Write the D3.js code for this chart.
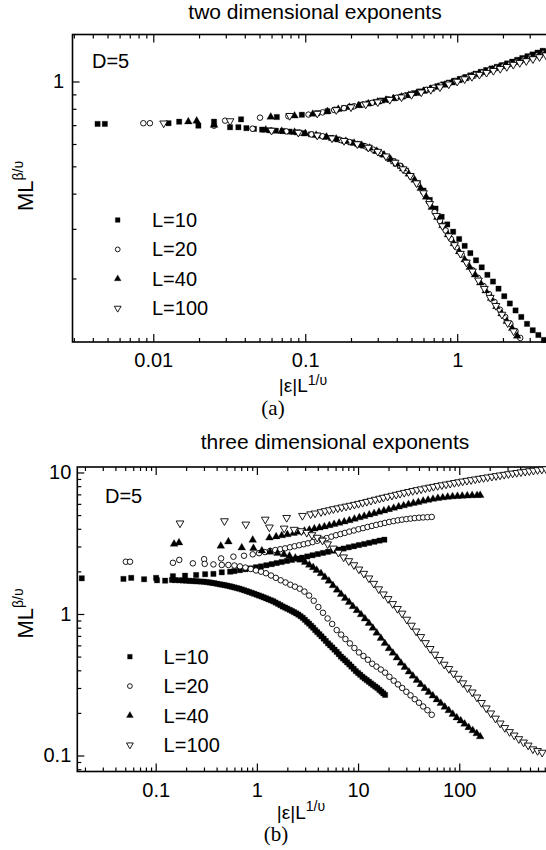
<!DOCTYPE html>
<html>
<head>
<meta charset="utf-8">
<script src="https://cdnjs.cloudflare.com/ajax/libs/d3/7.8.5/d3.min.js"></script>
<style>
body { margin: 0; background: #fff; }
svg text { font-family: "Liberation Sans", Arial, sans-serif; fill: #000; }
</style>
</head>
<body>
<div id="chart"></div>
<script>
var seriesNames = ["L=10", "L=20", "L=40", "L=100"];

// (a) two dimensional exponents, points are [|e|L^(1/v), ML^(b/v)]
var twoD_L10 = [[0.0043,0.707],[0.0048,0.707],[0.0126,0.711],[0.0148,0.720],[0.0198,0.697],[0.0251,0.720],[0.032,0.688],[0.0363,0.688],[0.0378,0.734],[0.065,0.748],[0.095,0.762],
  [0.12,0.772],[0.14,0.784],[0.16,0.795],[0.18,0.805],[0.2,0.814],[0.23,0.826],[0.26,0.836],[0.29,0.846],[0.32,0.856],[0.35,0.864],[0.39,0.874],[0.43,0.884],[0.47,0.895],[0.52,0.909],[0.57,0.922],[0.62,0.935],[0.68,0.949],[0.74,0.962],[0.81,0.977],[0.88,0.991],[0.96,1.006],[1.04,1.021],[1.13,1.036],[1.22,1.051],[1.32,1.066],[1.43,1.082],[1.55,1.097],[1.68,1.112],[1.82,1.127],[1.97,1.143],[2.13,1.159],[2.3,1.176],[2.48,1.193],[2.68,1.211],[2.9,1.229],[3.13,1.247],[3.38,1.266],[3.65,1.285],
  [0.041,0.683],[0.046,0.679],[0.052,0.675],[0.058,0.671],[0.064,0.669],[0.071,0.667],[0.079,0.664],[0.088,0.660],[0.098,0.655],[0.109,0.649],[0.121,0.643],[0.134,0.637],[0.148,0.630],[0.163,0.623],[0.18,0.616],[0.2,0.608],[0.22,0.600],[0.24,0.592],[0.265,0.581],[0.29,0.568],[0.32,0.553],[0.35,0.537],[0.38,0.521],[0.42,0.502],[0.46,0.483],[0.5,0.462],[0.55,0.436],[0.6,0.410],[0.66,0.380],[0.72,0.354],[0.79,0.331],[0.86,0.311],[0.94,0.293],[1.03,0.276],[1.12,0.261],[1.22,0.246],[1.33,0.232],[1.45,0.219],[1.58,0.206],[1.72,0.195],[1.87,0.184],[2.04,0.173],[2.22,0.163],[2.42,0.154],[2.64,0.146],[2.88,0.138],[3.14,0.131],[3.42,0.126],[3.72,0.121]];
var twoD_L20 = [[0.0086,0.711],[0.0095,0.711],[0.0251,0.697],[0.0297,0.726],
  [0.0504,0.744],[0.0774,0.753],[0.105,0.763],[0.13,0.777],[0.155,0.792],[0.18,0.804],[0.21,0.817],[0.24,0.829],[0.275,0.840],[0.31,0.852],[0.35,0.863],[0.4,0.876],[0.45,0.889],[0.5,0.902],[0.56,0.917],[0.63,0.934],[0.7,0.951],[0.78,0.968],[0.87,0.986],[0.97,1.004],[1.08,1.023],[1.2,1.042],[1.33,1.061],[1.48,1.080],[1.64,1.098],[1.82,1.116],[2.02,1.135],[2.24,1.155],[2.48,1.175],[2.75,1.196],[3.05,1.218],[3.38,1.24],[3.75,1.264],
  [0.045,0.680],[0.06,0.670],[0.075,0.665],[0.092,0.658],[0.11,0.649],[0.13,0.639],[0.15,0.629],[0.17,0.620],[0.195,0.610],[0.22,0.600],[0.25,0.588],[0.28,0.573],[0.31,0.558],[0.345,0.540],[0.38,0.521],[0.42,0.502],[0.46,0.482],[0.5,0.460],[0.55,0.433],[0.6,0.405],[0.65,0.375],[0.71,0.344],[0.77,0.320],[0.84,0.296],[0.91,0.276],[0.99,0.258],[1.07,0.243],[1.16,0.228],[1.26,0.214],[1.37,0.201],[1.49,0.188],[1.62,0.176],[1.76,0.165],[1.91,0.155],[2.07,0.146],[2.24,0.138],[2.42,0.130],[2.6,0.123]];
var twoD_L40 = [[0.017,0.720],[0.0193,0.724],[0.0251,0.700],
  [0.0593,0.748],[0.085,0.755],[0.112,0.766],[0.14,0.783],[0.165,0.797],[0.195,0.810],[0.225,0.822],[0.26,0.834],[0.3,0.847],[0.34,0.859],[0.38,0.870],[0.43,0.882],[0.48,0.894],[0.54,0.909],[0.6,0.923],[0.67,0.939],[0.75,0.956],[0.83,0.972],[0.92,0.989],[1.02,1.007],[1.13,1.025],[1.25,1.044],[1.39,1.064],[1.54,1.083],[1.7,1.101],[1.88,1.120],[2.08,1.139],[2.3,1.158],[2.55,1.178],[2.82,1.198],[3.12,1.219],[3.45,1.240],[3.8,1.262],
  [0.055,0.673],[0.07,0.666],[0.085,0.661],[0.1,0.654],[0.118,0.645],[0.138,0.635],[0.16,0.625],[0.185,0.614],[0.21,0.604],[0.235,0.594],[0.265,0.581],[0.295,0.566],[0.33,0.548],[0.365,0.529],[0.4,0.510],[0.44,0.490],[0.48,0.470],[0.525,0.447],[0.575,0.418],[0.625,0.389],[0.68,0.358],[0.74,0.330],[0.8,0.308],[0.87,0.286],[0.95,0.266],[1.03,0.249],[1.12,0.233],[1.21,0.219],[1.31,0.206],[1.42,0.193],[1.54,0.181],[1.67,0.170],[1.81,0.159],[1.96,0.150],[2.12,0.141],[2.3,0.133],[2.48,0.125]];
var twoD_L100 = [[0.0117,0.711],[0.032,0.724],[0.079,0.756],
  [0.12,0.770],[0.16,0.793],[0.2,0.811],[0.25,0.830],[0.3,0.845],[0.36,0.862],[0.43,0.880],[0.5,0.897],[0.58,0.916],[0.67,0.935],[0.77,0.955],[0.88,0.978],[1.0,1.0],[1.12,1.02],[1.25,1.04],[1.4,1.058],[1.56,1.075],[1.73,1.092],[1.92,1.11],[2.12,1.128],[2.34,1.148],[2.58,1.165],[2.85,1.183],[3.15,1.202],[3.48,1.222],[3.84,1.24],
  [0.06,0.670],[0.09,0.659],[0.12,0.644],[0.15,0.629],[0.18,0.616],[0.22,0.600],[0.26,0.583],[0.3,0.564],[0.34,0.543],[0.39,0.516],[0.44,0.489],[0.49,0.463],[0.54,0.436],[0.6,0.402],[0.66,0.368],[0.73,0.334],[0.8,0.307],[0.88,0.283],[0.96,0.263],[1.05,0.245],[1.15,0.228],[1.26,0.212],[1.38,0.197],[1.51,0.184],[1.65,0.171],[1.8,0.160],[1.97,0.149],[2.15,0.139],[2.35,0.130]];

// (b) three dimensional exponents
var threeD_L10 = [[0.0186,1.787],[0.048,1.77],[0.0573,1.80],[0.0768,1.76],[0.101,1.80],[0.103,1.73],[0.124,1.72],
  [0.148,1.85],[0.195,1.865],[0.251,1.886],[0.308,1.91],[0.372,1.92],[0.45,1.97],[0.544,1.99],[0.6,2.01],[0.68,2.04],[0.77,2.07],[0.87,2.10],[0.98,2.14],[1.1,2.17],[1.24,2.21],[1.4,2.25],[1.57,2.29],[1.76,2.33],[1.98,2.37],[2.22,2.41],[2.5,2.46],[2.8,2.50],[3.15,2.55],[3.55,2.60],[4.0,2.65],[4.5,2.70],[5.05,2.75],[5.7,2.80],[6.4,2.85],[7.2,2.90],[8.1,2.96],[9.1,3.01],[10.2,3.07],[11.5,3.12],[12.9,3.18],[14.5,3.24],[16.3,3.30],[18.2,3.35],
  [0.145,1.74],[0.155,1.735],[0.17,1.73],[0.185,1.725],[0.2,1.72],[0.215,1.715],[0.23,1.71],[0.245,1.705],[0.26,1.70],[0.28,1.695],[0.3,1.69],[0.32,1.68],[0.34,1.67],[0.36,1.66],[0.38,1.65],[0.405,1.635],[0.43,1.62],[0.455,1.61],[0.48,1.60],[0.51,1.585],[0.54,1.57],[0.57,1.555],[0.6,1.54],[0.635,1.525],[0.67,1.51],[0.71,1.49],[0.75,1.47],[0.795,1.45],[0.84,1.43],[0.89,1.41],[0.94,1.39],[0.995,1.37],[1.05,1.35],[1.11,1.33],[1.17,1.31],[1.235,1.29],[1.3,1.27],[1.375,1.25],[1.45,1.23],[1.53,1.205],[1.62,1.18],[1.71,1.155],[1.8,1.13],[1.9,1.11],[2.0,1.09],[2.11,1.07],[2.22,1.05],[2.33,1.03],[2.45,1.01],[2.57,0.99],[2.7,0.965],[2.84,0.94],[2.98,0.91],[3.13,0.88],[3.28,0.855],[3.44,0.825],[3.6,0.80],[3.77,0.77],[3.95,0.745],[4.15,0.72],[4.35,0.695],[4.57,0.67],[4.8,0.645],[5.05,0.62],[5.3,0.60],[5.57,0.58],[5.85,0.56],[6.15,0.54],[6.45,0.52],[6.77,0.50],[7.1,0.485],[7.45,0.47],[7.8,0.455],[8.2,0.44],[8.6,0.425],[9.05,0.41],[9.5,0.395],[10.0,0.383],[10.5,0.372],[11.05,0.36],[11.6,0.35],[12.2,0.341],[12.8,0.332],[13.45,0.323],[14.1,0.315],[14.8,0.307],[15.5,0.30],[16.25,0.291],[17.0,0.283],[17.75,0.275],[18.5,0.268]];
var threeD_L20 = [[0.0507,2.34],[0.0558,2.34],[0.148,2.30],[0.171,2.41],[0.233,2.28],[0.301,2.44],[0.305,2.26],[0.372,2.24],[0.443,2.47],[0.523,2.22],
  [0.586,2.54],[0.747,2.58],[0.91,2.64],[1.05,2.69],[1.2,2.74],[1.35,2.79],[1.52,2.83],[1.7,2.87],[1.9,2.91],[2.12,2.96],[2.36,3.01],[2.62,3.06],[2.9,3.11],[3.2,3.16],[3.55,3.22],[3.95,3.29],[4.4,3.36],[4.9,3.44],[5.45,3.52],[6.05,3.60],[6.7,3.67],[7.4,3.74],[8.2,3.82],[9.1,3.89],[10.1,3.97],[11.2,4.04],[12.4,4.12],[13.7,4.19],[15.1,4.26],[16.7,4.33],[18.4,4.40],[20.3,4.47],[22.4,4.53],[24.7,4.59],[27.2,4.64],[30,4.68],[33,4.72],[36.3,4.76],[40,4.79],[44,4.81],[48.5,4.83],[53.5,4.85],
  [0.45,2.22],[0.6,2.20],[0.68,2.17],[0.77,2.13],[0.87,2.08],[0.98,2.03],[1.1,1.99],[1.23,1.94],[1.38,1.87],[1.54,1.80],[1.72,1.73],[1.92,1.67],[2.14,1.61],[2.38,1.56],[2.65,1.51],[2.95,1.44],[3.28,1.35],[3.65,1.24],[4.05,1.12],[4.5,1.02],[5.0,0.93],[5.55,0.85],[6.15,0.77],[6.8,0.715],[7.5,0.665],[8.3,0.62],[9.2,0.575],[10.2,0.535],[11.3,0.505],[12.5,0.475],[13.8,0.445],[15.2,0.425],[16.8,0.405],[18.5,0.385],[20.4,0.36],[22.5,0.338],[24.8,0.318],[27.3,0.30],[30,0.282],[33,0.266],[36.3,0.25],[40,0.236],[44,0.222],[48.5,0.209],[53.5,0.194]];
var threeD_L40 = [[0.152,3.12],[0.17,3.19],[0.44,3.02],[0.523,3.24],[0.709,2.94],[0.91,3.33],[0.925,2.91],[1.12,2.80],
  [1.33,3.45],[1.55,3.52],[1.76,3.58],[2.0,3.64],[2.3,3.72],[2.6,3.79],[2.95,3.86],[3.3,3.93],[3.7,4.00],[4.15,4.07],[4.65,4.14],[5.2,4.22],[5.8,4.30],[6.5,4.39],[7.3,4.48],[8.2,4.58],[9.2,4.69],[10.3,4.80],[11.5,4.91],[12.9,5.02],[14.4,5.13],[16.1,5.25],[18,5.36],[20.1,5.48],[22.5,5.60],[25.2,5.72],[28.2,5.83],[31.5,5.95],[35.2,6.06],[39.4,6.17],[44,6.28],[49.2,6.38],[55,6.48],[61.5,6.57],[68.7,6.64],[76.8,6.70],[85.8,6.75],[96,6.79],[107,6.82],[120,6.85],[134,6.87],[150,6.89],[161,6.90],
  [1.35,2.74],[1.6,2.69],[1.85,2.63],[2.1,2.57],[2.4,2.49],[2.7,2.41],[3.0,2.32],[3.3,2.22],[3.6,2.13],[3.9,2.04],[4.3,1.93],[4.7,1.82],[5.15,1.71],[5.65,1.59],[6.2,1.48],[6.8,1.38],[7.45,1.29],[8.15,1.21],[8.9,1.13],[9.75,1.06],[10.7,0.99],[11.7,0.925],[12.8,0.86],[14,0.795],[15.3,0.735],[16.8,0.675],[18.4,0.62],[20.2,0.57],[22.1,0.53],[24.2,0.49],[26.5,0.45],[29,0.42],[31.8,0.39],[34.8,0.365],[38.1,0.34],[41.7,0.318],[45.7,0.298],[50,0.28],[54.8,0.264],[60,0.248],[65.7,0.234],[72,0.22],[78.8,0.208],[86.3,0.196],[94.5,0.185],[103.5,0.176],[113,0.167],[124,0.158],[136,0.15],[149,0.143],[161,0.136]];
var threeD_L100 = [[0.174,4.38],[0.478,4.54],[0.777,4.30],[1.21,4.66],[1.97,4.79],
  [2.82,4.95],[3.4,5.08],[3.76,5.15],[4.3,5.26],[4.72,5.35],[5.2,5.43],[5.7,5.52],[6.3,5.60],[6.9,5.68],[7.6,5.76],[8.34,5.84],[9.2,5.93],[10.1,6.02],[11.1,6.12],[12.2,6.22],[13.4,6.33],[14.8,6.44],[16.3,6.55],[17.8,6.65],[19.6,6.76],[21.6,6.87],[23.8,6.98],[26,7.09],[28.6,7.20],[31.5,7.31],[34.7,7.42],[38.2,7.53],[42,7.63],[46.2,7.74],[50.8,7.84],[55.6,7.94],[61.2,8.05],[67.3,8.15],[74,8.25],[81.4,8.35],[89.6,8.46],[98.5,8.56],[108,8.66],[119,8.76],[131,8.86],[144,8.96],[158,9.06],[174,9.16],[191,9.26],[210,9.36],[231,9.46],[253,9.56],[278,9.66],[306,9.76],[337,9.86],[370,9.96],[407,10.06],[448,10.15],[492,10.24],[541,10.33],[595,10.42],[655,10.5],[720,10.58],
  [1.33,4.10],[1.86,4.03],[2.33,3.95],[2.75,3.86],[3.11,3.76],[3.5,3.62],[3.95,3.47],[4.45,3.31],[5.0,3.12],[5.7,2.91],[6.4,2.72],[7.2,2.52],[8.1,2.37],[9.1,2.22],[10.2,2.07],[11.4,1.93],[12.8,1.79],[14.3,1.64],[16,1.50],[17.8,1.38],[19.8,1.28],[22,1.18],[24.5,1.09],[27.2,1.01],[30.3,0.915],[33.7,0.83],[37.5,0.755],[41.7,0.69],[46.4,0.625],[51.6,0.568],[57.4,0.518],[63.8,0.475],[71,0.44],[79,0.41],[87.8,0.38],[97.7,0.35],[108.6,0.325],[120.8,0.30],[134.4,0.28],[149.5,0.258],[166,0.236],[185,0.216],[205,0.199],[228,0.183],[254,0.169],[282,0.157],[314,0.147],[349,0.139],[388,0.131],[432,0.124],[480,0.118],[534,0.111],[594,0.108],[660,0.105]];

// tick values
var xMajorA = [0.01, 0.1, 1];
var xMinorA = [0.003,0.004,0.005,0.006,0.007,0.008,0.009,0.02,0.03,0.04,0.05,0.06,0.07,0.08,0.09,0.2,0.3,0.4,0.5,0.6,0.7,0.8,0.9,2,3];
var yMajorA = [1];
var yMinorA = [0.2,0.3,0.4,0.5,0.6,0.7,0.8,0.9];
var xMajorB = [0.1, 1, 10, 100];
var xMinorB = [0.02,0.03,0.04,0.05,0.06,0.07,0.08,0.09,0.2,0.3,0.4,0.5,0.6,0.7,0.8,0.9,2,3,4,5,6,7,8,9,20,30,40,50,60,70,80,90,200,300,400,500,600,700];
var yMajorB = [0.1, 1, 10];
var yMinorB = [0.08,0.09,0.2,0.3,0.4,0.5,0.6,0.7,0.8,0.9,2,3,4,5,6,7,8,9];

var W = 546, H = 850;
var svg = d3.select("#chart").append("svg")
    .attr("width", W)
    .attr("height", H);
svg.append("rect").attr("width", W).attr("height", H).attr("fill", "#fff");

var symbolTypes = [d3.symbolSquare, d3.symbolCircle, d3.symbolTriangle, d3.symbolTriangle];
var symbolSizes = [28, 24, 26, 26];
var symbolFill = ["#000", "#fff", "#000", "#fff"];
var symbolRot = ["", "", "", " rotate(180)"];

var panels = [
  {title: "two dimensional exponents", titleX: 315, titleY: 19, tag: "(a)", tagX: 273, tagY: 415,
   left: 72.5, top: 34.5, bottom: 342, xDomain: [0.00294, 3.84], yDomain: [0.119, 1.468],
   xMajor: xMajorA, xMinor: xMinorA, yMajor: yMajorA, yMinor: yMinorA, yPad: 8.5,
   series: [twoD_L10, twoD_L20, twoD_L40, twoD_L100],
   dX: 92, dY: 68, legX: 117.7, legTextX: 152, legY: 220, xLabX: 303, xLabY: 392, yLabY: 186},
  {title: "three dimensional exponents", titleX: 335, titleY: 449, tag: "(b)", tagX: 276, tagY: 841,
   left: 77.3, top: 467, bottom: 771.5, xDomain: [0.0168, 720], yDomain: [0.0771, 10.93],
   xMajor: xMajorB, xMinor: xMinorB, yMajor: yMajorB, yMinor: yMinorB, yPad: 6,
   series: [threeD_L10, threeD_L20, threeD_L40, threeD_L100],
   dX: 105, dY: 503, legX: 129.9, legTextX: 163.6, legY: 656.7, xLabX: 301, xLabY: 818.5, yLabY: 613.5}
];

panels.forEach(drawPanel);

function drawPanel(p){
    var x = d3.scaleLog().domain(p.xDomain).range([p.left, W]);
    var y = d3.scaleLog().domain(p.yDomain).range([p.bottom, p.top]);

    // axes, ticks pointing inwards
    var gb = svg.append("g").attr("transform", "translate(0," + p.bottom + ")");
    gb.call(d3.axisBottom(x).tickValues(p.xMinor).tickSize(-4).tickFormat(""));
    var gb2 = svg.append("g").attr("transform", "translate(0," + p.bottom + ")");
    gb2.call(d3.axisBottom(x).tickValues(p.xMajor).tickSize(-8).tickPadding(11)
        .tickFormat(function(d){ return d >= 1 ? d3.format("d")(d) : String(d); }));

    var gt = svg.append("g").attr("transform", "translate(0," + p.top + ")");
    gt.call(d3.axisTop(x).tickValues(p.xMinor).tickSize(-4).tickFormat(""));
    var gt2 = svg.append("g").attr("transform", "translate(0," + p.top + ")");
    gt2.call(d3.axisTop(x).tickValues(p.xMajor).tickSize(-8).tickFormat(""));

    var gl = svg.append("g").attr("transform", "translate(" + p.left + ",0)");
    gl.call(d3.axisLeft(y).tickValues(p.yMinor).tickSize(-4).tickFormat(""));
    var gl2 = svg.append("g").attr("transform", "translate(" + p.left + ",0)");
    gl2.call(d3.axisLeft(y).tickValues(p.yMajor).tickSize(-7).tickPadding(p.yPad)
        .tickFormat(function(d){ return d >= 1 ? d3.format("d")(d) : String(d); }));

    [gb, gb2, gt, gt2, gl, gl2].forEach(function(g){
        g.select(".domain").remove();
        g.attr("font-size", 20).attr("font-family", null);
        g.selectAll(".tick line").attr("stroke", "#000").attr("stroke-width", 1.2);
    });

    // frame
    svg.append("rect")
        .attr("x", p.left)
        .attr("y", p.top)
        .attr("width", W + 10 - p.left)
        .attr("height", p.bottom - p.top)
        .attr("fill", "none")
        .attr("stroke", "#000")
        .attr("stroke-width", 1.6);

    // data points
    p.series.forEach(function(s, i){
        svg.append("g").selectAll("path")
            .data(s)
            .enter()
            .append("path")
            .attr("d", d3.symbol().type(symbolTypes[i]).size(symbolSizes[i]))
            .attr("transform", function(d){
                return "translate(" + x(d[0]) + "," + y(d[1]) + ")" + symbolRot[i];
            })
            .attr("fill", symbolFill[i])
            .attr("stroke", "#000")
            .attr("stroke-width", i % 2 === 1 ? 0.9 : 0.3);
    });

    // legend
    for(var i in seriesNames){
        var ly = p.legY + i*29.4;
        svg.append("path")
            .attr("d", d3.symbol().type(symbolTypes[i]).size(symbolSizes[i] - 6))
            .attr("transform", "translate(" + p.legX + "," + ly + ")" + symbolRot[i])
            .attr("fill", symbolFill[i])
            .attr("stroke", "#000")
            .attr("stroke-width", i % 2 === 1 ? 0.9 : 0.3);
        svg.append("text")
            .attr("x", p.legTextX)
            .attr("y", ly + 7)
            .style("font-size", "20px")
            .text(seriesNames[i]);
    }

    svg.append("text")
        .attr("x", p.dX)
        .attr("y", p.dY)
        .style("font-size", "20px")
        .text("D=5");

    svg.append("text")
        .attr("x", p.titleX)
        .attr("y", p.titleY)
        .attr("text-anchor", "middle")
        .style("font-size", "21px")
        .text(p.title);

    // axis titles
    var xl = svg.append("text")
        .attr("x", p.xLabX)
        .attr("y", p.xLabY)
        .attr("text-anchor", "middle")
        .style("font-size", "19px");
    xl.append("tspan").text("|\u03b5|L");
    xl.append("tspan").attr("dy", -7.5).style("font-size", "14px").text("1/\u03c5");

    var yl = svg.append("text")
        .attr("transform", "translate(33," + p.yLabY + ") rotate(-90)")
        .attr("text-anchor", "middle")
        .style("font-size", "22px");
    yl.append("tspan").text("ML");
    yl.append("tspan").attr("dy", -10).style("font-size", "14px").text("\u03b2/\u03c5");

    svg.append("text")
        .attr("x", p.tagX)
        .attr("y", p.tagY)
        .attr("text-anchor", "middle")
        .style("font-family", "'Liberation Serif', 'Times New Roman', serif")
        .style("font-size", "21px")
        .text(p.tag);
}
</script>
</body>
</html>
